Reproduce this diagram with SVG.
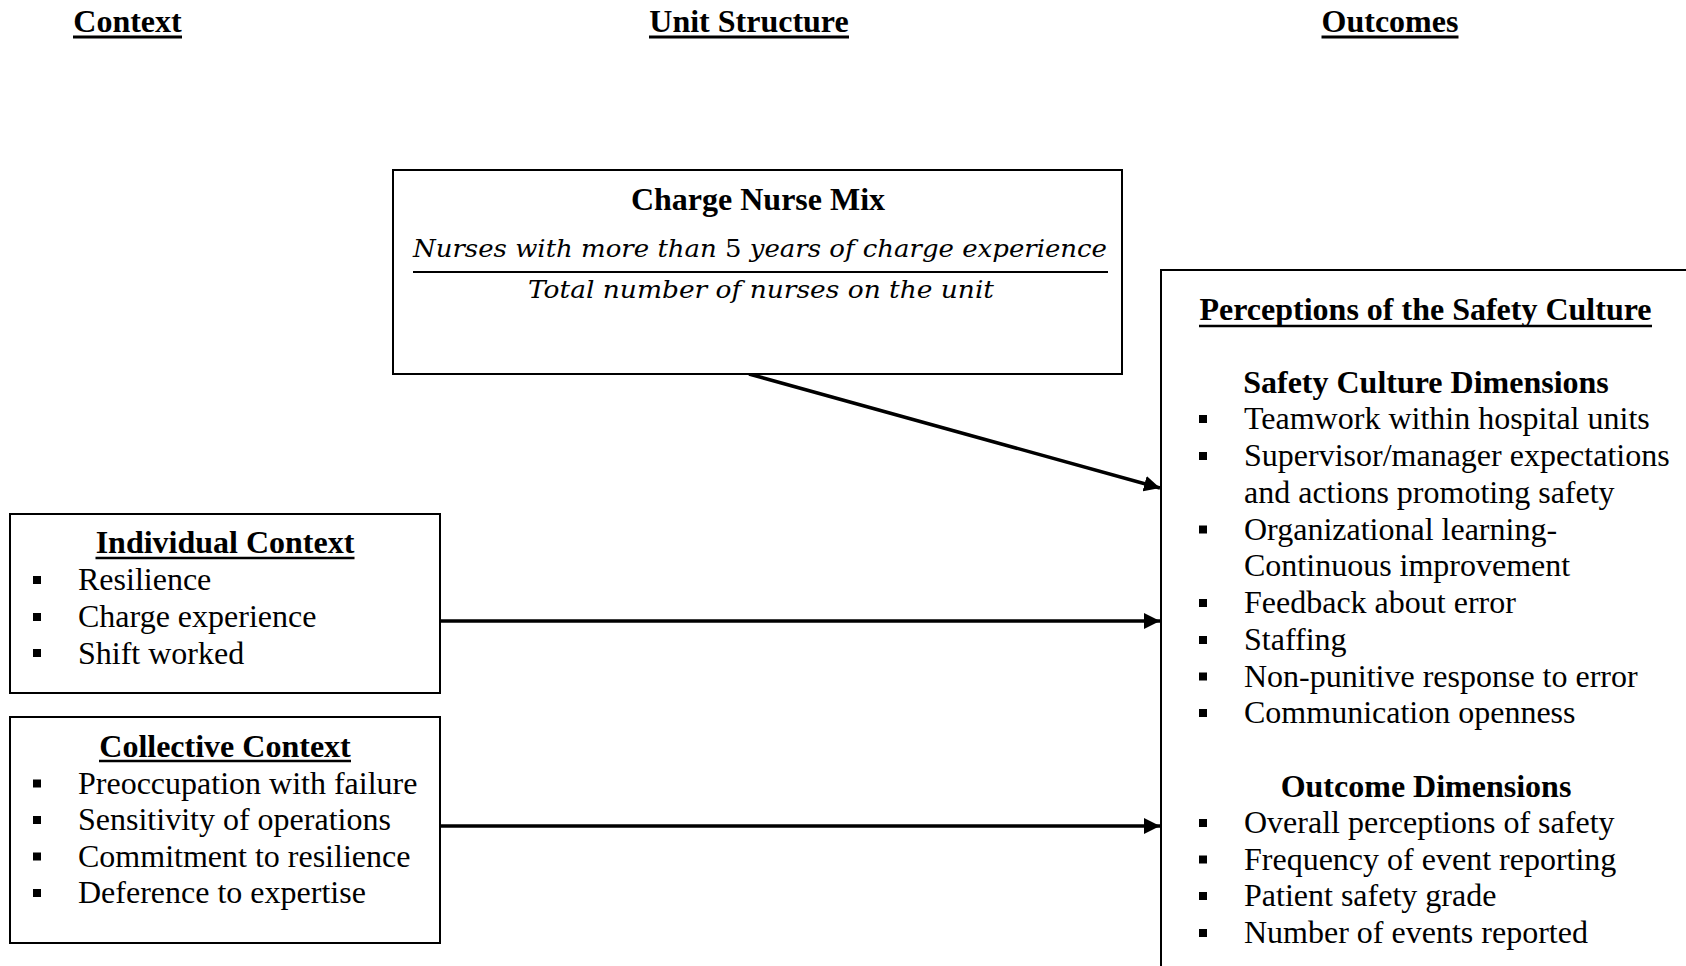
<svg xmlns="http://www.w3.org/2000/svg" width="1686" height="966" viewBox="0 0 1686 966">
  <defs>
    <style>
      .t { font-family: "Liberation Serif", "Times New Roman", serif; font-size: 32px; fill: #000; }
      .b { font-weight: bold; }
      .c { text-anchor: middle; }
      .math { font-family: "DejaVu Serif", serif; font-style: italic; font-size: 25px; fill: #000; }
      .box { fill: #fff; stroke: #000; stroke-width: 2; }
      .ul { stroke: #000; stroke-width: 2.5; }
      .hul { stroke: #000; stroke-width: 3; }
      .conn { stroke: #000; stroke-width: 3.5; fill: none; marker-end: url(#arrow); }
      .sq { fill: #000; }
    </style>
    <marker id="arrow" markerUnits="userSpaceOnUse" markerWidth="16" markerHeight="16" refX="16" refY="8" orient="auto">
      <path d="M0,0 L16,8 L0,16 Z" fill="#000"/>
    </marker>
    <rect id="bullet" width="8" height="8"/>
  </defs>

  <rect width="1686" height="966" fill="#fff"/>

  <!-- column headers -->
  <g id="headers">
    <text class="t b c" x="127.5" y="32">Context</text>
    <line class="hul" x1="73" y1="37" x2="182" y2="37"/>
    <text class="t b c" x="749" y="32">Unit Structure</text>
    <line class="hul" x1="649" y1="37" x2="849" y2="37"/>
    <text class="t b c" x="1390" y="32">Outcomes</text>
    <line class="hul" x1="1321.5" y1="37" x2="1458.5" y2="37"/>
  </g>

  <!-- connectors -->
  <g id="connectors">
    <line class="conn" x1="749" y1="374" x2="1160" y2="488"/>
    <line class="conn" x1="440" y1="621" x2="1160" y2="621"/>
    <line class="conn" x1="440" y1="826" x2="1160" y2="826"/>
  </g>

  <!-- unit structure: charge nurse mix -->
  <g id="charge-nurse-mix">
    <rect class="box" x="393" y="170" width="729" height="204"/>
    <text class="t b c" x="758" y="210">Charge Nurse Mix</text>
    <text class="math" x="413" y="257" textLength="694" lengthAdjust="spacingAndGlyphs">Nurses with more than <tspan font-style="normal">5</tspan> years of charge experience</text>
    <line stroke="#000" stroke-width="2" x1="413" y1="272" x2="1108" y2="272"/>
    <text class="math" x="528" y="298" textLength="466" lengthAdjust="spacingAndGlyphs">Total number of nurses on the unit</text>
  </g>

  <!-- individual context -->
  <g id="individual-context">
    <rect class="box" x="10" y="514" width="430" height="179"/>
    <text class="t b c" x="225" y="553">Individual Context</text>
    <line class="ul" x1="95.5" y1="558" x2="354.5" y2="558"/>
    <use href="#bullet" class="sq" x="33" y="576"/>
    <text class="t" x="78" y="590">Resilience</text>
    <use href="#bullet" class="sq" x="33" y="613"/>
    <text class="t" x="78" y="627">Charge experience</text>
    <use href="#bullet" class="sq" x="33" y="649"/>
    <text class="t" x="78" y="663.5">Shift worked</text>
  </g>

  <!-- collective context -->
  <g id="collective-context">
    <rect class="box" x="10" y="717" width="430" height="226"/>
    <text class="t b c" x="225" y="757">Collective Context</text>
    <line class="ul" x1="99" y1="761" x2="351" y2="761"/>
    <use href="#bullet" class="sq" x="33" y="779.5"/>
    <text class="t" x="78" y="793.5">Preoccupation with failure</text>
    <use href="#bullet" class="sq" x="33" y="816"/>
    <text class="t" x="78" y="830">Sensitivity of operations</text>
    <use href="#bullet" class="sq" x="33" y="852.5"/>
    <text class="t" x="78" y="866.5">Commitment to resilience</text>
    <use href="#bullet" class="sq" x="33" y="889"/>
    <text class="t" x="78" y="903">Deference to expertise</text>
  </g>

  <!-- outcomes: perceptions of the safety culture -->
  <g id="safety-culture">
    <rect class="box" x="1161" y="270" width="600" height="800" stroke-width="2.5"/>
    <text class="t b c" x="1425.5" y="320">Perceptions of the Safety Culture</text>
    <line class="ul" x1="1199" y1="326" x2="1652" y2="326"/>

    <text class="t b c" x="1426" y="393">Safety Culture Dimensions</text>
    <use href="#bullet" class="sq" x="1199" y="415"/>
    <text class="t" x="1244" y="429">Teamwork within hospital units</text>
    <use href="#bullet" class="sq" x="1199" y="452"/>
    <text class="t" x="1244" y="466">Supervisor/manager expectations</text>
    <text class="t" x="1244" y="503">and actions promoting safety</text>
    <use href="#bullet" class="sq" x="1199" y="525.5"/>
    <text class="t" x="1244" y="539.5">Organizational learning-</text>
    <text class="t" x="1244" y="576">Continuous improvement</text>
    <use href="#bullet" class="sq" x="1199" y="599"/>
    <text class="t" x="1244" y="613">Feedback about error</text>
    <use href="#bullet" class="sq" x="1199" y="636"/>
    <text class="t" x="1244" y="650">Staffing</text>
    <use href="#bullet" class="sq" x="1199" y="672.5"/>
    <text class="t" x="1244" y="686.5">Non-punitive response to error</text>
    <use href="#bullet" class="sq" x="1199" y="709"/>
    <text class="t" x="1244" y="723">Communication openness</text>

    <text class="t b c" x="1426" y="797">Outcome Dimensions</text>
    <use href="#bullet" class="sq" x="1199" y="819"/>
    <text class="t" x="1244" y="833">Overall perceptions of safety</text>
    <use href="#bullet" class="sq" x="1199" y="855.5"/>
    <text class="t" x="1244" y="869.5">Frequency of event reporting</text>
    <use href="#bullet" class="sq" x="1199" y="892"/>
    <text class="t" x="1244" y="906">Patient safety grade</text>
    <use href="#bullet" class="sq" x="1199" y="929"/>
    <text class="t" x="1244" y="943">Number of events reported</text>
  </g>
</svg>
